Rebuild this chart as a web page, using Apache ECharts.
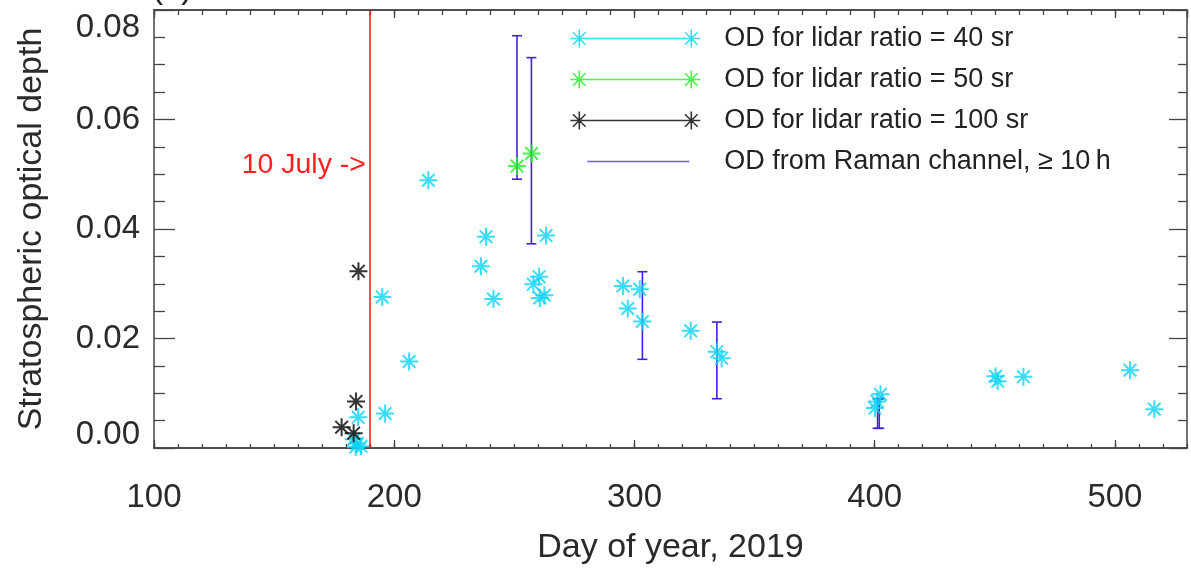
<!DOCTYPE html>
<html>
<head>
<meta charset="utf-8">
<script src="https://cdn.jsdelivr.net/npm/echarts@6/dist/echarts.min.js"></script>
<style>html,body{margin:0;padding:0;background:#fff;}#c{width:1191px;height:570px;}</style>
</head>
<body>
<div id="c"></div>
<script>
// ---- data ----
const days40 = [195.0, 206.2, 185.0, 196.2, 183.2, 184.6, 186.2, 184.0, 214.2, 238.2, 236.1, 241.3,
  263.2, 260.3, 257.9, 260.6, 262.5, 295.2, 302.2, 297.2, 303.3, 323.4, 334.3, 336.3,
  400.1, 401.0, 402.4, 450.3, 451.2, 461.9, 506.3, 516.4];
const od40 = [0.0276, 0.0158, 0.0056, 0.0063, 0.0016, 0.0008, 0.0003, 0.0002, 0.0489, 0.0386, 0.0332, 0.0272,
  0.0388, 0.0313, 0.0299, 0.0274, 0.0279, 0.0296, 0.0290, 0.0255, 0.0231, 0.0214, 0.0176, 0.0164,
  0.0073, 0.0085, 0.0098, 0.0131, 0.0122, 0.0130, 0.0142, 0.0071];
const days50 = [251.1, 257.2];
const od50 = [0.0515, 0.0538];
const days100 = [185.1, 184.1, 178.1, 183.1];
const od100 = [0.0323, 0.0085, 0.0038, 0.0027];
const ramanDays = [251.1, 257.1, 303.3, 334.3, 401.2, 401.9];
const ramanLow = [0.0491, 0.0373, 0.0162, 0.0090, 0.0036, 0.0036];
const ramanHigh = [0.0753, 0.0713, 0.0322, 0.0230, 0.0090, 0.0090];
const eventDay = 190;
const xTicks = [100, 200, 300, 400, 500];
const yTicks = [0.00, 0.02, 0.04, 0.06, 0.08];
const names = ['OD for lidar ratio = 40 sr', 'OD for lidar ratio = 50 sr', 'OD for lidar ratio = 100 sr', 'OD from Raman channel, \u2265 10\u2009h'];

// ---- styling ----
const C40 = '#0bd3f5', C50 = '#22ee22', C100 = '#000000', CR = '#3d22e6', CRL = '#6e5ef0';
const FONT = 'Liberation Sans, Arial, sans-serif';
const TXT = '#2a2a2a';
const AX = '#444';

function zip(a, b) { return a.map((v, i) => [v, b[i]]); }
function starPath(cx, cy, r) {
  const d = r * 0.7;
  return `M${cx},${cy - r}L${cx},${cy + r}M${cx - r},${cy}L${cx + r},${cy}` +
    `M${cx - d},${cy - d}L${cx + d},${cy + d}M${cx - d},${cy + d}L${cx + d},${cy - d}`;
}
const STAR = 'path://' + starPath(0, 0, 1);
const legendStarIcon = 'path://M0,0M149,18M9,9L121,9' + starPath(9, 9, 9) + starPath(121, 9, 9);
const legendLineIcon = 'path://M0,0M149,18M17,9L119,9';

function scatter(name, data, color) {
  return {
    name, type: 'scatter', data, symbol: STAR, symbolSize: 18, clip: false,
    itemStyle: { color: 'transparent', borderColor: color, borderWidth: 2 },
    emphasis: { disabled: true }
  };
}

const xBase = { type: 'value', min: 100, max: 530, gridIndex: 0, splitLine: { show: false },
  axisLine: { show: true, onZero: false, lineStyle: { color: AX, width: 1.5 } } };
const yBase = { type: 'value', min: 0, max: 0.08, interval: 0.02, splitLine: { show: false },
  axisLine: { show: true, onZero: false, lineStyle: { color: AX, width: 1.5 } } };

const chart = echarts.init(document.getElementById('c'));
chart.setOption({
  animation: false,
  backgroundColor: '#fff',
  grid: { left: 154, right: 4, top: 10, bottom: 119 },
  legend: {
    orient: 'vertical', left: 569.5, top: 25, itemWidth: 149, itemHeight: 18, itemGap: 14,
    padding: 0, selectedMode: false,
    textStyle: { color: '#222', fontSize: 27, fontFamily: FONT },
    data: [
      { name: names[0], icon: legendStarIcon, itemStyle: { color: 'transparent', borderColor: C40, borderWidth: 1.6 } },
      { name: names[1], icon: legendStarIcon, itemStyle: { color: 'transparent', borderColor: C50, borderWidth: 1.6 } },
      { name: names[2], icon: legendStarIcon, itemStyle: { color: 'transparent', borderColor: C100, borderWidth: 1.6 } },
      { name: names[3], icon: legendLineIcon, itemStyle: { color: 'transparent', borderColor: CRL, borderWidth: 1.5 } }
    ]
  },
  xAxis: [
    Object.assign({}, xBase, { position: 'bottom', interval: 100,
      name: 'Day of year, 2019', nameLocation: 'middle', nameGap: 83,
      nameTextStyle: { color: TXT, fontSize: 34, fontFamily: FONT },
      axisTick: { inside: true, length: 8, lineStyle: { color: AX, width: 1.3 } },
      axisLabel: { margin: 33, fontSize: 33, color: TXT, fontFamily: FONT, showMaxLabel: false,
        formatter: v => (xTicks.indexOf(v) >= 0 ? String(v) : '') } }),
    Object.assign({}, xBase, { position: 'bottom', interval: 10,
      axisTick: { inside: true, length: 4, lineStyle: { color: AX, width: 1.3 } },
      axisLabel: { show: false } }),
    Object.assign({}, xBase, { position: 'top', interval: 100,
      axisTick: { inside: true, length: 8, lineStyle: { color: AX, width: 1.3 } },
      axisLabel: { show: false } }),
    Object.assign({}, xBase, { position: 'top', interval: 10,
      axisTick: { inside: true, length: 5, lineStyle: { color: AX, width: 1.3 } },
      axisLabel: { show: false } })
  ],
  yAxis: [
    Object.assign({}, yBase, { position: 'left',
      name: 'Stratospheric optical depth', nameLocation: 'middle', nameGap: 105,
      nameTextStyle: { color: TXT, fontSize: 34, fontFamily: FONT },
      axisTick: { inside: true, length: 21, lineStyle: { color: AX, width: 1.3 } },
      minorTick: { show: true, splitNumber: 4, length: 11, lineStyle: { color: AX, width: 1.3 } },
      axisLabel: { margin: 14, fontSize: 33, lineHeight: 26, padding: [5, 0, 0, 0], color: TXT, fontFamily: FONT,
        verticalAlignMinLabel: 'bottom', verticalAlignMaxLabel: 'top',
        formatter: v => { const t = yTicks.find(k => Math.abs(k - v) < 1e-9); return t === undefined ? '' : t.toFixed(2); } } }),
    Object.assign({}, yBase, { position: 'right',
      axisTick: { inside: true, length: 18, lineStyle: { color: AX, width: 1.3 } },
      minorTick: { show: true, splitNumber: 4, length: 9, lineStyle: { color: AX, width: 1.3 } },
      axisLabel: { show: false } })
  ],
  graphic: [
    { type: 'text', left: 152, top: -28, silent: true,
      style: { text: '(a)', fill: '#222', fontSize: 33, fontFamily: FONT } },
    { type: 'text', right: 1191 - 366, top: 151, silent: true,
      style: { text: '10 July ->', fill: '#ff2020', fontSize: 28.5, fontFamily: FONT } }
  ],
  series: [
    Object.assign(scatter(names[0], zip(days40, od40), C40), {
      markLine: { silent: true, symbol: 'none', label: { show: false },
        lineStyle: { color: '#ff1010', width: 1.5, type: 'solid' },
        emphasis: { disabled: true },
        data: [{ xAxis: eventDay }] }
    }),
    scatter(names[1], zip(days50, od50), C50),
    scatter(names[2], zip(days100, od100), C100),
    {
      name: names[3], type: 'custom',
      data: ramanDays.map((d, i) => [d, ramanLow[i], ramanHigh[i]]),
      encode: { x: 0, y: [1, 2] },
      renderItem: function (params, api) {
        const lo = api.coord([api.value(0), api.value(1)]);
        const hi = api.coord([api.value(0), api.value(2)]);
        const w = 5;
        const st = { stroke: CR, lineWidth: 1.6 };
        return { type: 'group', children: [
          { type: 'line', shape: { x1: lo[0], y1: lo[1], x2: hi[0], y2: hi[1] }, style: st },
          { type: 'line', shape: { x1: lo[0] - w, y1: lo[1], x2: lo[0] + w, y2: lo[1] }, style: st },
          { type: 'line', shape: { x1: hi[0] - w, y1: hi[1], x2: hi[0] + w, y2: hi[1] }, style: st }
        ] };
      },
      itemStyle: { color: CR }
    }
  ]
});
</script>
</body>
</html>
